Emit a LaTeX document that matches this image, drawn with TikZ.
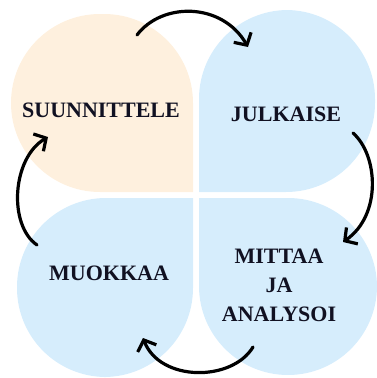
\documentclass[tikz,border=0pt]{standalone}
\usepackage{fontspec}
\setmainfont{Liberation Serif}
\usetikzlibrary{arrows.meta}
\definecolor{peach}{RGB}{254,240,222}
\definecolor{skyblue}{RGB}{214,237,252}
\definecolor{ink}{RGB}{17,17,34}
\begin{document}
\begin{tikzpicture}[x=1pt,y=-1pt]
    \tikzstyle{stage}=[font=\bfseries\fontsize{22}{29}\selectfont,text=ink,align=center,inner sep=0pt];
    \tikzstyle{turn}=[draw=black,line width=3.2pt,line cap=round,-{Straight Barb[length=9pt,width=20pt,line width=3.2pt]}];
    \tikzstyle{petal}=[rounded corners=89pt];

    \useasboundingbox (0,0) rectangle (377,378);

    % petals, sharp corner towards the centre
    \fill[peach,petal]   (193,192) -- (11,192) -- (11,14) -- (193,14) -- (193,192);
    \fill[skyblue,petal] (199,192) -- (199,10) -- (375,10) -- (375,192) -- (199,192);
    \fill[skyblue,petal] (193,198) -- (193,377) -- (17,377) -- (17,198) -- (193,198);
    \fill[skyblue,petal] (199,198) -- (377,198) -- (377,375) -- (199,375) -- (199,198);

    \node at (101,110) (plan) [stage] {SUUNNITTELE};
    \node at (286,114) (publish) [stage] {JULKAISE};
    \node at (279,285) (measure) [stage] {MITTAA\\JA\\ANALYSOI};
    \node at (109,273) (edit) [stage] {MUOKKAA};

    \coordinate (t1) at (137,35);
    \coordinate (t2) at (248,47);
    \coordinate (r1) at (353,133);
    \coordinate (r2) at (343,242);
    \coordinate (b1) at (253,347);
    \coordinate (b2) at (143,338);
    \coordinate (l1) at (37,245);
    \coordinate (l2) at (48,137);

    \draw[turn] (t1) .. controls (162,2) and (222,2) .. (t2);
    \draw[turn] (r1) .. controls (378,155) and (382,215) .. (r2);
    \draw[turn] (b1) .. controls (232,382) and (160,382) .. (b2);
    \draw[turn] (l1) .. controls (8,225) and (12,158) .. (l2);
\end{tikzpicture}
\end{document}
